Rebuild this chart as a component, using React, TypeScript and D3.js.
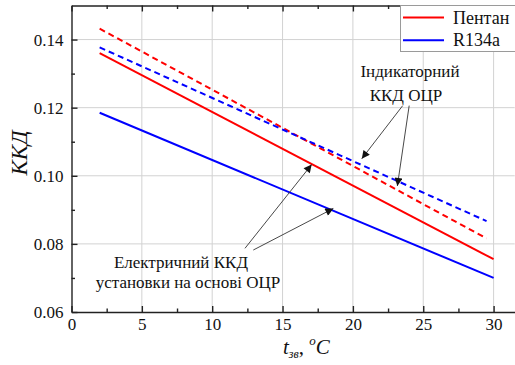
import React, { useEffect, useRef } from "react";
import * as d3 from "d3";

// temperature of condensation, °C
const SOLID_T = [2, 30];
const DASH_T = [2, 29.5];
// electric efficiency of the plant
const PENTANE_ELEC = [0.136, 0.0755];
const R134A_ELEC = [0.1185, 0.07];
// indicated ORC efficiency
const PENTANE_IND = [0.1432, 0.0816];
const R134A_IND = [0.1377, 0.0867];

const X_TICKS = [0, 5, 10, 15, 20, 25, 30];
const Y_TICKS = [0.06, 0.08, 0.1, 0.12, 0.14];
const X_MINOR = [2.5, 7.5, 12.5, 17.5, 22.5, 27.5];
const Y_MINOR = [0.07, 0.09, 0.11, 0.13];

const LEGEND = [
  { name: "Пентан", color: "#ff0000" },
  { name: "R134a", color: "#0000ff" },
];

// annotation text (data coords) and arrows [from, to]
const IND_TEXT = [
  { t: "Індикаторний", x: 24.06, y: 0.1289 },
  { t: "ККД ОЦР", x: 23.77, y: 0.1221 },
];
const ELEC_TEXT = [
  { t: "Електричний ККД", x: 7.78, y: 0.0729 },
  { t: "установки на основі ОЦР", x: 8.28, y: 0.067 },
];
const ARROWS = [
  [12.33, 0.0787, 17.07, 0.1033],
  [12.92, 0.0782, 18.61, 0.0904],
  [23.54, 0.1206, 20.63, 0.105],
  [24.0, 0.1206, 23.16, 0.097],
];

const W = 515;
const H = 365;
const FONT = "Liberation Serif, Tinos, Times New Roman, DejaVu Serif, serif";

export default function App() {
  const ref = useRef<SVGSVGElement>(null);

  useEffect(() => {
    const svg = d3.select(ref.current);
    svg.selectAll("*").remove();

    const left = 71.5,
      right = 514.7,
      top = 5.5,
      bottom = 312;

    const x = d3.scaleLinear().domain([0, 31.5]).range([left, right]);
    const y = d3.scaleLinear().domain([0.06, 0.15]).range([bottom, top]);

    const defs = svg.append("defs");
    defs
      .append("marker")
      .attr("id", "arr")
      .attr("viewBox", "0 0 10 10")
      .attr("refX", 10)
      .attr("refY", 5)
      .attr("markerWidth", 10)
      .attr("markerHeight", 8)
      .attr("markerUnits", "userSpaceOnUse")
      .attr("orient", "auto")
      .append("path")
      .attr("d", "M0,0 L10,5 L0,10 Z")
      .attr("fill", "#111");

    // grid
    const grid = svg.append("g").attr("stroke", "#d2d2d2").attr("stroke-width", 1);
    X_TICKS.slice(1).forEach((v) => {
      grid.append("line").attr("x1", x(v)).attr("x2", x(v)).attr("y1", top).attr("y2", bottom);
    });
    Y_TICKS.slice(1).forEach((v) => {
      grid.append("line").attr("x1", left).attr("x2", right).attr("y1", y(v)).attr("y2", y(v));
    });

    // lines
    const line = (xs: number[], ys: number[]) =>
      d3
        .line<number>()
        .x((_, i) => x(xs[i]))
        .y((d) => y(d))(ys);

    const series = [
      { t: DASH_T, v: PENTANE_IND, c: LEGEND[0].color, dash: "6,4" },
      { t: DASH_T, v: R134A_IND, c: LEGEND[1].color, dash: "6,4" },
      { t: SOLID_T, v: PENTANE_ELEC, c: LEGEND[0].color, dash: null },
      { t: SOLID_T, v: R134A_ELEC, c: LEGEND[1].color, dash: null },
    ];
    series.forEach((s) => {
      svg
        .append("path")
        .attr("d", line(s.t, s.v))
        .attr("fill", "none")
        .attr("stroke", s.c)
        .attr("stroke-width", 2)
        .attr("stroke-dasharray", s.dash);
    });

    // axes
    const styleAxis = (g: any) => {
      g.attr("font-family", FONT).attr("font-size", 17);
      g.selectAll("path, line").attr("stroke", "#222").attr("stroke-width", 1.4);
      g.selectAll("text").attr("fill", "#111");
    };

    svg
      .append("g")
      .attr("transform", `translate(0,${bottom})`)
      .call(d3.axisBottom(x).tickValues(X_TICKS).tickSizeInner(-6).tickSizeOuter(0).tickPadding(6).tickFormat(d3.format("d")))
      .call(styleAxis);
    svg
      .append("g")
      .attr("transform", `translate(0,${bottom})`)
      .call(d3.axisBottom(x).tickValues(X_MINOR).tickSize(-3.5).tickFormat(() => ""))
      .call(styleAxis)
      .select(".domain")
      .remove();

    svg
      .append("g")
      .attr("transform", `translate(0,${top})`)
      .call(d3.axisTop(x).tickValues(X_TICKS).tickSizeInner(-6).tickSizeOuter(0).tickFormat(() => ""))
      .call(styleAxis);
    svg
      .append("g")
      .attr("transform", `translate(0,${top})`)
      .call(d3.axisTop(x).tickValues(X_MINOR).tickSize(-3.5).tickFormat(() => ""))
      .call(styleAxis)
      .select(".domain")
      .remove();

    svg
      .append("g")
      .attr("transform", `translate(${left},0)`)
      .call(d3.axisLeft(y).tickValues(Y_TICKS).tickSizeInner(-6).tickSizeOuter(0).tickPadding(8).tickFormat(d3.format(".2f")))
      .call(styleAxis);
    svg
      .append("g")
      .attr("transform", `translate(${left},0)`)
      .call(d3.axisLeft(y).tickValues(Y_MINOR).tickSize(-3.5).tickFormat(() => ""))
      .call(styleAxis)
      .select(".domain")
      .remove();

    // legend
    const lg = svg.append("g").attr("font-family", FONT).attr("font-size", 18);
    lg.append("rect")
      .attr("x", 400.5)
      .attr("y", top)
      .attr("width", 120)
      .attr("height", 46)
      .attr("fill", "#fff")
      .attr("stroke", "#9a9a9a")
      .attr("stroke-width", 1);
    LEGEND.forEach((d, i) => {
      const ly = 17.5 + i * 22.7;
      lg.append("line")
        .attr("x1", 403)
        .attr("x2", 444)
        .attr("y1", ly)
        .attr("y2", ly)
        .attr("stroke", d.color)
        .attr("stroke-width", 2);
      lg.append("text")
        .attr("x", 453)
        .attr("y", ly + 6)
        .attr("fill", "#111")
        .text(d.name);
    });

    // annotations
    const ann = svg.append("g").attr("font-family", FONT).attr("font-size", 17);
    [...IND_TEXT, ...ELEC_TEXT].forEach((d) => {
      ann
        .append("text")
        .attr("x", x(d.x))
        .attr("y", y(d.y))
        .attr("text-anchor", "middle")
        .attr("fill", "#111")
        .text(d.t);
    });
    ARROWS.forEach((a) => {
      svg
        .append("line")
        .attr("x1", x(a[0]))
        .attr("y1", y(a[1]))
        .attr("x2", x(a[2]))
        .attr("y2", y(a[3]))
        .attr("stroke", "#333")
        .attr("stroke-width", 0.9)
        .attr("marker-end", "url(#arr)");
    });

    // axis titles
    svg
      .append("text")
      .attr("transform", "translate(27,153) rotate(-90)")
      .attr("text-anchor", "middle")
      .attr("font-family", FONT)
      .attr("font-size", 23)
      .attr("font-style", "italic")
      .attr("fill", "#111")
      .text("ККД");

    const xt = svg
      .append("text")
      .attr("x", 283)
      .attr("y", 354)
      .attr("font-family", FONT)
      .attr("font-size", 21)
      .attr("font-style", "italic")
      .attr("fill", "#111");
    xt.append("tspan").text("t");
    xt.append("tspan").attr("dy", 4).attr("font-size", 12).text("зв");
    xt.append("tspan").attr("dy", -4).attr("font-style", "normal").text(", ");
    xt.append("tspan").attr("dy", -9).attr("font-size", 13).text("o");
    xt.append("tspan").attr("dy", 9).text("C");
  }, []);

  return (
    <div style={{ position: "fixed", left: 0, top: 0, background: "#fff" }}>
      <svg ref={ref} width={W} height={H} style={{ display: "block" }} />
    </div>
  );
}
